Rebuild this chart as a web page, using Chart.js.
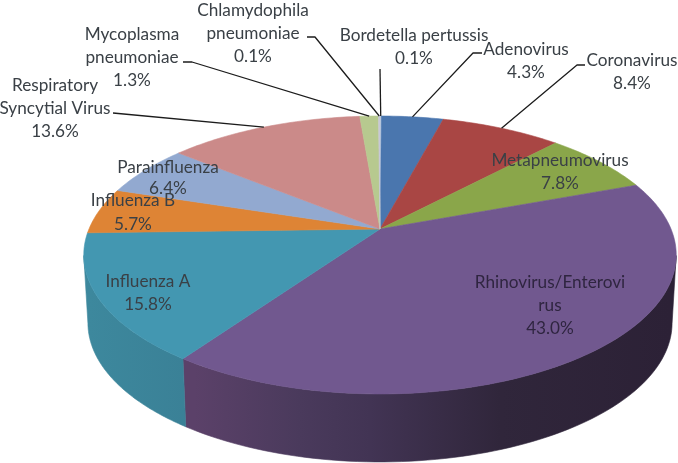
<!DOCTYPE html>
<html><head><meta charset="utf-8">
<style>html,body{margin:0;padding:0;background:#fff}#w{width:678px;height:463px}</style>
<script src="https://cdn.jsdelivr.net/npm/chart.js@4"></script></head>
<body><div id="w"><canvas id="c" width="678" height="463"></canvas></div>
<script>
const categories=["Bordetella pertussis","Adenovirus","Coronavirus","Metapneumovirus","Rhinovirus/Enterovirus","Influenza A","Influenza B","Parainfluenza","Respiratory Syncytial Virus","Mycoplasma pneumoniae","Chlamydophila pneumoniae"];
const values=[0.1,4.3,8.4,7.8,43.0,15.8,5.7,6.4,13.6,1.3,0.1];
const valueLabels=["0.1%","4.3%","8.4%","7.8%","43.0%","15.8%","5.7%","6.4%","13.6%","1.3%","0.1%"];
const colors=["#b9cde0","#4a76ae","#a94644","#8aa64a","#71588f","#4397b1","#de8435","#92a9d0","#cb8a89","#b7c98f","#c8c8d8"];

// layout of the drawn text: wrapped lines, centre x, and y of each line
const textLayout=[
 {lines:["Bordetella pertussis"],x:414,y:35,dy:23},
 {lines:["Adenovirus"],x:526,y:49,dy:23},
 {lines:["Coronavirus"],x:632,y:60,dy:23},
 {lines:["Metapneumovirus"],x:560,y:160,dy:23},
 {lines:["Rhinovirus/Enterovi","rus"],x:550,y:282,dy:23},
 {lines:["Influenza A"],x:148,y:281,dy:23},
 {lines:["Influenza B"],x:133,y:200,dy:24},
 {lines:["Parainfluenza"],x:168,y:167,dy:21},
 {lines:["Respiratory","Syncytial Virus"],x:55,y:85,dy:23},
 {lines:["Mycoplasma","pneumoniae"],x:132,y:34,dy:23},
 {lines:["Chlamydophila","pneumoniae"],x:253,y:10,dy:23}
];
// leader polylines start at the label and end on the rim of their slice
const leaders={0:[[380,69]],1:[[482,53],[473,53]],2:[[585,65],[577,65]],8:[[113,113]],9:[[183,62],[192,62]],10:[[307,37],[315,37]]};
// side wall shading
const sideStops={4:[[195,"#5b4169"],[300,"#4a3a5c"],[370,"#423454"],[500,"#30263b"],[670,"#2c2136"]],
                 5:[[88,"#3d889d"],[195,"#3a8096"]]};

const P={kx:291/229,ky:134.1/229,c:-0.187,depth:68/229,bottomScale:0.986};
function proj(el,a,bottom){
  const r=el.outerRadius,ca=Math.cos(a),sa=Math.sin(a),den=1+P.c*sa;
  const s=bottom?P.bottomScale:1;
  return [el.x+s*P.kx*r*ca/den, el.y+P.ky*r*sa/den+(bottom?P.depth*r:0)];
}
const pie3d={id:'pie3d',
  beforeDatasetDraw(chart,args){
    const ctx=chart.ctx,els=chart.getDatasetMeta(0).data;
    const tA=Math.PI*11/180, tB=Math.PI-tA; // tangent angles of the visible wall
    els.forEach((el,i)=>{
      if(!sideStops[i])return;
      const a0=Math.max(el.startAngle,tA),a1=Math.min(el.endAngle,tB);
      if(a1<=a0)return;
      const g=ctx.createLinearGradient(0,0,chart.width,0);
      sideStops[i].forEach(s=>g.addColorStop(s[0]/chart.width,s[1]));
      ctx.beginPath();
      const n=80;
      for(let k=0;k<=n;k++){const p=proj(el,a0+(a1-a0)*k/n,false);k?ctx.lineTo(p[0],p[1]):ctx.moveTo(p[0],p[1]);}
      for(let k=n;k>=0;k--){const p=proj(el,a0+(a1-a0)*k/n,true);ctx.lineTo(p[0],p[1]);}
      ctx.closePath();ctx.fillStyle=g;ctx.fill();
      ctx.strokeStyle=g;ctx.lineWidth=0.6;ctx.stroke();
    });
    els.forEach((el,i)=>{
      ctx.beginPath();ctx.moveTo(el.x,el.y);
      const n=Math.max(2,Math.ceil((el.endAngle-el.startAngle)*60));
      for(let k=0;k<=n;k++){const p=proj(el,el.startAngle+(el.endAngle-el.startAngle)*k/n,false);ctx.lineTo(p[0],p[1]);}
      ctx.closePath();
      ctx.fillStyle=colors[i];ctx.fill();
      ctx.strokeStyle=colors[i];ctx.lineWidth=0.6;ctx.stroke();
    });
    return false;
  },
  afterDraw(chart){
    const ctx=chart.ctx,els=chart.getDatasetMeta(0).data;
    ctx.save();
    ctx.strokeStyle="#1c1c1c";ctx.lineWidth=1.3;ctx.lineJoin="round";
    Object.keys(leaders).forEach(k=>{
      const el=els[k],pts=leaders[k];
      const m=proj(el,(el.startAngle+el.endAngle)/2,false);
      ctx.beginPath();
      pts.forEach((p,j)=>j?ctx.lineTo(p[0],p[1]):ctx.moveTo(p[0],p[1]));
      ctx.lineTo(m[0],m[1]);ctx.stroke();
    });
    ctx.font='17.2px Lato';ctx.textAlign='center';ctx.textBaseline='middle';
    textLayout.forEach((t,i)=>{
      ctx.fillStyle=(i===4)?"#2f2540":"#3a4046";
      t.lines.forEach((l,j)=>ctx.fillText(l,t.x,t.y+j*t.dy));
      ctx.fillText(valueLabels[i],t.x,t.y+t.lines.length*t.dy);
    });
    ctx.restore();
  }
};
new Chart(document.getElementById('c'),{
  type:'pie',
  data:{labels:categories,datasets:[{data:values,backgroundColor:colors,borderWidth:0}]},
  options:{responsive:false,animation:false,
    layout:{padding:{left:82,bottom:5}},
    plugins:{legend:{display:false},tooltip:{enabled:false}}},
  plugins:[pie3d]
});
</script></body></html>
